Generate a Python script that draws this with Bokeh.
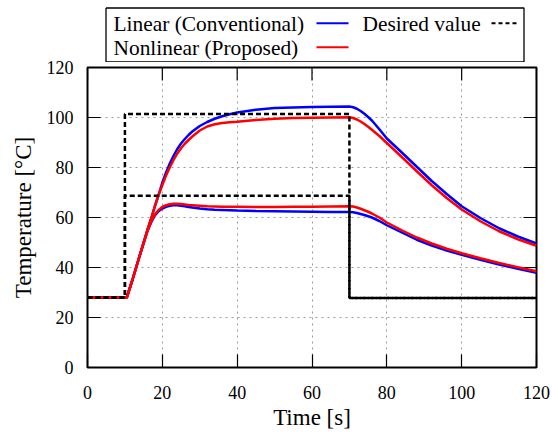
from bokeh.plotting import figure
from bokeh.models import Range1d, FixedTicker
from bokeh.layouts import column
from bokeh.core.properties import value
from bokeh.embed import file_html
from bokeh.resources import INLINE

# ---------------- data ----------------
time_s = [0, 10.5, 12, 14, 16, 17, 18, 19, 20, 21, 22, 23, 24, 25, 26, 27, 28, 30, 32, 34, 36, 38, 40,
          45, 50, 55, 60, 65, 70, 71, 72, 73, 74, 75, 76, 78, 80, 84, 88, 92, 96, 100, 105, 110, 115, 120]

linear_high = [28, 28, 35, 45, 55, 59.5, 64.5, 69, 74, 78, 81.6, 84.7, 87.4, 89.6, 91.4, 93, 94.4, 96.6, 98.2, 99.5, 100.5, 101.3, 102,
               103.1, 103.8, 104.0, 104.2, 104.3, 104.4, 104.1, 103.5, 102.6, 101.5, 100.2, 98.8, 95.3, 91.6, 86, 80.3, 74.6, 69.4, 64.5, 59.8, 55.7, 52.4, 49.6]
nonlinear_high = [28, 28, 35, 45, 55, 59.5, 64.5, 69, 73, 76.8, 80.1, 83, 85.6, 87.7, 89.5, 91, 92.4, 94.8, 96.4, 97.3, 97.8, 98.1, 98.3,
                  99, 99.5, 99.8, 99.9, 100, 100.1, 99.8, 99.2, 98.4, 97.4, 96.3, 95.1, 92.6, 89.8, 84.2, 78.5, 72.9, 67.8, 63.2, 58.5, 54.5, 51.3, 48.7]
linear_low = [28, 28, 35, 45, 54.5, 58, 60.8, 62.5, 63.6, 64.3, 64.7, 64.9, 64.9, 64.7, 64.5, 64.2, 64, 63.6, 63.3, 63.1, 63, 62.9, 62.8,
              62.6, 62.5, 62.4, 62.3, 62.2, 62.2, 62.1, 61.8, 61.4, 61, 60.5, 60, 58.6, 56.9, 54, 51.1, 48.8, 46.8, 45.1, 43.1, 41.2, 39.5, 37.9]
nonlinear_low = [28, 28, 35, 45, 54.5, 58.3, 61.2, 63, 64.2, 64.9, 65.3, 65.5, 65.5, 65.4, 65.2, 65, 64.9, 64.7, 64.5, 64.4, 64.3, 64.3, 64.3,
                 64.2, 64.2, 64.3, 64.3, 64.4, 64.5, 64.4, 64, 63.5, 62.9, 62.3, 61.6, 60, 58, 54.9, 52, 49.6, 47.5, 45.7, 43.7, 41.8, 40.1, 38.5]

desired_t = [0, 10, 10, 70, 70, 120]
desired_high = [28, 28, 101.4, 101.4, 27.8, 27.8]
desired_low = [28, 28, 68.7, 68.7, 27.8, 27.8]

x_ticks = [0, 20, 40, 60, 80, 100, 120]
y_ticks = [0, 20, 40, 60, 80, 100, 120]

legend_linear = "Linear (Conventional)"
legend_nonlinear = "Nonlinear (Proposed)"
legend_desired = "Desired value"

FONT = "'Liberation Serif'"
BLUE = "#0000ff"
RED = "#ff0000"
TICK_PX = 13

# ---------------- legend panel (its coordinates are page pixels) ----------------
LEG_H = 62
OVERLAP = 6
leg = figure(frame_width=449, frame_height=LEG_H, output_backend="svg", toolbar_location=None,
             x_axis_location=None, y_axis_location=None,
             x_range=Range1d(87, 536), y_range=Range1d(LEG_H, 0),
             min_border_left=87, min_border_right=16, min_border_top=0, min_border_bottom=0)
leg.grid.visible = False
leg.outline_line_color = None
leg.background_fill_color = "white"
leg.border_fill_color = "white"

leg.line([105.5, 523.5, 523.5, 105.5, 105.5], [7.5, 7.5, 61.5, 61.5, 7.5], line_color="black", line_width=1.3)

def leg_text(x, y, s):
    leg.text(x=[x], y=[y], text=[s], text_font=value(FONT), text_font_size="21.4px",
             text_baseline="middle", text_align="left", text_color="black")

leg_text(113, 23, legend_linear)
leg.line([316, 348], [22.7, 22.7], line_color=BLUE, line_width=2)
leg_text(362, 23, legend_desired)
leg.line([491, 518], [22.7, 22.7], line_color="black", line_width=2, line_dash="4 3")
leg_text(113, 47.5, legend_nonlinear)
leg.line([316, 348], [46.7, 46.7], line_color=RED, line_width=2)

# ---------------- main chart ----------------
p = figure(frame_width=449, frame_height=300, output_backend="svg", toolbar_location=None,
           x_range=Range1d(0, 120), y_range=Range1d(0, 120),
           min_border_left=87, min_border_right=16, min_border_top=67 - LEG_H + OVERLAP,
           min_border_bottom=67, margin=(-OVERLAP, 0, 0, 0))
p.background_fill_color = "white"
p.border_fill_alpha = 0
p.outline_line_color = "black"
p.outline_line_width = 2

for ax in (p.xaxis[0], p.yaxis[0]):
    ax.axis_line_color = None
    ax.major_tick_in = TICK_PX
    ax.major_tick_out = 0
    ax.minor_tick_line_color = None
    ax.major_tick_line_color = "black"
    ax.major_tick_line_width = 1.2
    ax.major_label_text_font = FONT
    ax.major_label_text_font_size = "18px"
    ax.major_label_text_color = "black"
    ax.axis_label_text_font = FONT
    ax.axis_label_text_font_size = "23px"
    ax.axis_label_text_font_style = "normal"
    ax.axis_label_text_color = "black"

p.xaxis[0].ticker = FixedTicker(ticks=x_ticks)
p.yaxis[0].ticker = FixedTicker(ticks=y_ticks)
p.xaxis[0].axis_label = "Time [s]"
p.yaxis[0].axis_label = "Temperature [\u00b0C]"
p.xaxis[0].major_label_standoff = 18
p.xaxis[0].axis_label_standoff = 3
p.yaxis[0].major_label_standoff = 14
p.yaxis[0].axis_label_standoff = 8

p.grid.grid_line_color = "#999999"
p.grid.grid_line_dash = "2 4"
p.grid.grid_line_width = 1
p.xgrid.ticker = FixedTicker(ticks=x_ticks)
p.ygrid.ticker = FixedTicker(ticks=y_ticks)

# mirrored ticks on the top and right edges of the frame
tl_y = TICK_PX * 120 / 300
tl_x = TICK_PX * 120 / 449
p.segment(x0=x_ticks, y0=[120] * len(x_ticks), x1=x_ticks, y1=[120 - tl_y] * len(x_ticks),
          line_color="black", line_width=1.2)
p.segment(x0=[120] * len(y_ticks), y0=y_ticks, x1=[120 - tl_x] * len(y_ticks), y1=y_ticks,
          line_color="black", line_width=1.2)

p.line(time_s, linear_high, line_color=BLUE, line_width=2.5)
p.line(time_s, linear_low, line_color=BLUE, line_width=2.5)
p.line(time_s, nonlinear_high, line_color=RED, line_width=2.5)
p.line(time_s, nonlinear_low, line_color=RED, line_width=2.5)
p.line(desired_t, desired_high, line_color="black", line_width=2.5, line_dash="5 3")
p.line(desired_t, desired_low, line_color="black", line_width=2.5, line_dash="5 3")

open("out.html", "w").write(file_html(column(leg, p), INLINE))
